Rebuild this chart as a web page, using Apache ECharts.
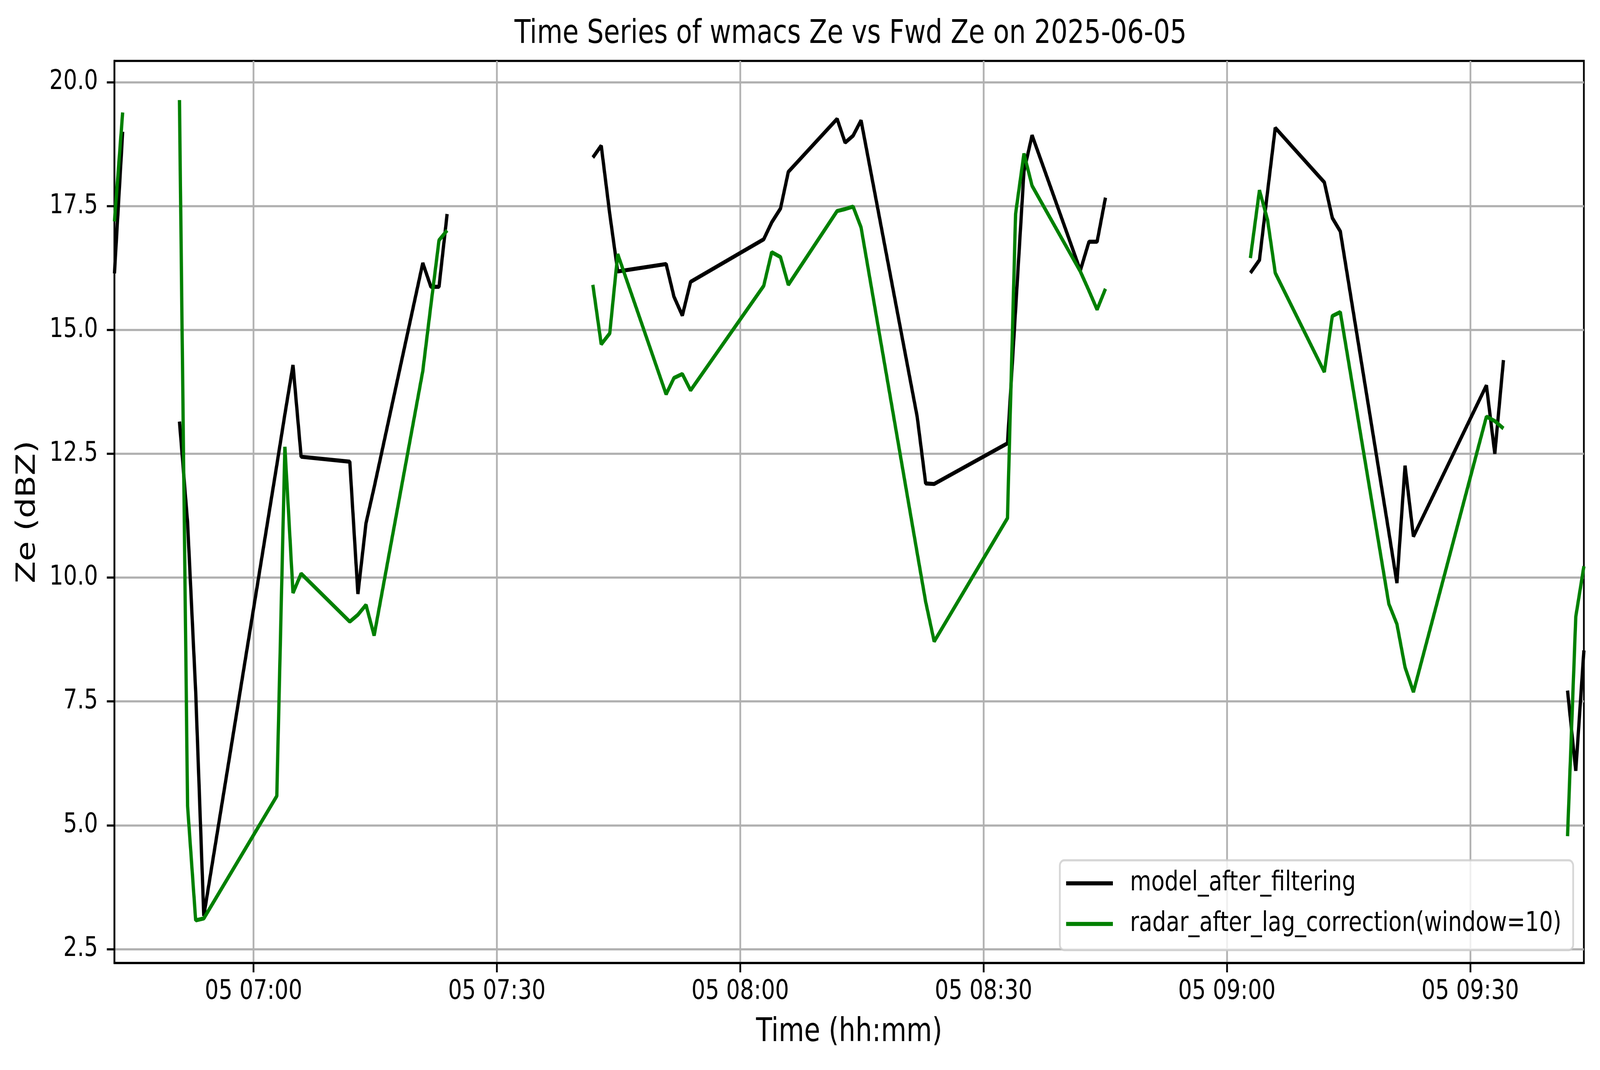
<!DOCTYPE html>
<html>
<head>
<meta charset="utf-8">
<title>wmacs Ze vs Fwd Ze</title>
<script src="https://cdn.jsdelivr.net/npm/echarts@6.0.0/dist/echarts.min.js"></script>
<style>
    html, body { margin: 0; padding: 0; background: #ffffff; overflow: hidden; }
    #chart { width: 5062px; height: 2740px; transform-origin: 0 0; }
</style>
</head>
<body>
<div id="chart"></div>
<script>
// sample times on 2025-06-05, a null row breaks the line (NaN in the source)
var times = [
    '06:42:51', '06:43:52', '06:47:00',
    '06:50:52', '06:51:52', '06:52:52', '06:53:52', '07:02:52', '07:03:52', '07:04:52', '07:05:52',
    '07:11:52', '07:12:52', '07:13:52', '07:14:52', '07:20:52', '07:21:52', '07:22:52', '07:23:52', '07:32:00',
    '07:41:50', '07:42:52', '07:43:55', '07:44:54', '07:50:52', '07:51:50', '07:52:52', '07:53:53',
    '08:02:54', '08:03:53', '08:04:58', '08:05:56', '08:11:57', '08:12:56', '08:13:55', '08:14:54',
    '08:21:49', '08:22:52', '08:23:55', '08:32:57', '08:33:57', '08:34:59', '08:35:59',
    '08:41:56', '08:43:00', '08:44:00', '08:45:02', '08:55:00',
    '09:02:54', '09:04:01', '09:05:01', '09:05:58', '09:12:01', '09:13:00', '09:13:59',
    '09:19:58', '09:20:58', '09:21:58', '09:23:00', '09:32:00', '09:33:02', '09:34:06', '09:38:00',
    '09:42:00', '09:43:01', '09:44:01'
];

var modelZe = [
    16.14, 19.00, null,
    13.15, 11.12, 7.70, 3.17, 12.27, 13.30, 14.29, 12.44,
    12.34, 9.67, 11.10, 11.82, 16.35, 15.87, 15.87, 17.34, null,
    18.48, 18.72, 17.34, 16.18, 16.33, 15.67, 15.29, 15.97,
    16.83, 17.17, 17.45, 18.19, 19.26, 18.78, 18.92, 19.23,
    13.25, 11.90, 11.89, 12.71, 15.40, 18.20, 18.93,
    16.20, 16.78, 16.78, 17.67, null,
    16.15, 16.41, 17.79, 19.08, 17.98, 17.26, 16.99,
    10.92, 9.89, 12.26, 10.83, 13.88, 12.50, 14.39, null,
    7.72, 6.10, 8.53
];

var radarZe = [
    17.19, 19.39, null,
    19.64, 5.39, 3.08, 3.12, 5.59, 12.64, 9.69, 10.08,
    9.11, 9.25, 9.45, 8.83, 14.17, 15.50, 16.81, 17.01, null,
    15.91, 14.71, 14.93, 16.53, 13.70, 14.03, 14.11, 13.78,
    15.89, 16.57, 16.47, 15.91, 17.40, 17.44, 17.49, 17.07,
    10.50, 9.51, 8.71, 11.20, 17.34, 18.56, 17.91,
    16.18, 15.79, 15.41, 15.83, null,
    16.45, 17.82, 17.22, 16.15, 14.15, 15.28, 15.36,
    9.47, 9.06, 8.19, 7.69, 13.25, 13.16, 13.01, null,
    4.78, 9.21, 10.23
];

var seriesNames = ['model_after_filtering', 'radar_after_lag_correction(window=10)'];
var seriesColors = ['#000000', '#008000'];
var xTicks = ['07:00:00', '07:30:00', '08:00:00', '08:30:00', '09:00:00', '09:30:00'];
var yTicks = [2.5, 5.0, 7.5, 10.0, 12.5, 15.0, 17.5, 20.0];
var xRange = ['06:42:51', '09:44:01'];
var yRange = [2.22, 20.43];

var FONT = 'DejaVu Sans';

function toStamp(hms) {
    var p = hms.split(':');
    return new Date(2025, 5, 5, +p[0], +p[1], +p[2]).getTime();
}

function pad2(n) {
    return (n < 10 ? '0' : '') + n;
}

function buildData(values) {
    var out = [];
    for (var i = 0; i < times.length; i++) {
        out.push([toStamp(times[i]), values[i]]);
    }
    return out;
}

var xTickStamps = xTicks.map(toStamp);

// the chart is laid out at 5062 x 2740, then fitted to whatever the window is
var box = document.getElementById('chart');
box.style.transform = 'scale(' + (window.innerWidth / 5062) + ',' + (window.innerHeight / 2740) + ')';

var chart = echarts.init(box, null, { renderer: 'canvas', width: 5062, height: 2740 });

var option = {
    backgroundColor: '#ffffff',
    animation: false,
    title: {
        text: 'Time Series of wmacs Ze vs Fwd Ze on 2025-06-05',
        left: 2686,
        top: 42,
        textAlign: 'center',
        textStyle: { fontFamily: FONT, fontSize: 83, fontWeight: 'normal', color: '#000' }
    },
    grid: {
        left: 362, right: 51, top: 156, bottom: 274,
        show: true,
        borderColor: '#000',
        borderWidth: 5.5,
        backgroundColor: '#ffffff'
    },
    legend: {
        orient: 'vertical',
        right: 85,
        bottom: 307,
        padding: [22, 37, 30, 20],
        icon: 'rect',
        itemWidth: 148,
        itemHeight: 10.4,
        itemGap: 30,
        backgroundColor: 'rgba(255,255,255,0.8)',
        borderColor: 'rgba(204,204,204,0.8)',
        borderWidth: 5.5,
        borderRadius: 14,
        textStyle: { fontFamily: FONT, fontSize: 69, lineHeight: 74, color: '#000', padding: [0, 0, 0, 49] },
        data: seriesNames
    },
    // time kept as a value axis in ms so the ticks can be placed by hand
    xAxis: {
        type: 'value',
        min: toStamp(xRange[0]),
        max: toStamp(xRange[1]),
        name: 'Time (hh:mm)',
        nameLocation: 'middle',
        nameGap: 137,
        nameTextStyle: { fontFamily: FONT, fontSize: 83, color: '#000' },
        axisLine: { show: true, lineStyle: { color: '#000', width: 5.5 } },
        axisTick: {
            show: true, length: 24, lineStyle: { color: '#000', width: 5.5 },
            customValues: xTickStamps
        },
        axisLabel: {
            fontFamily: FONT, fontSize: 69, color: '#000', margin: 40,
            customValues: xTickStamps,
            formatter: function (v) {
                var d = new Date(v);
                return pad2(d.getDate()) + ' ' + pad2(d.getHours()) + ':' + pad2(d.getMinutes());
            }
        },
        splitLine: { show: true, lineStyle: { color: '#b0b0b0', width: 5.5 } }
    },
    yAxis: {
        type: 'value',
        min: yRange[0],
        max: yRange[1],
        name: 'Ze (dBZ)',
        nameLocation: 'middle',
        nameGap: 232,
        nameTextStyle: { fontFamily: FONT, fontSize: 83, color: '#000' },
        axisLine: { show: true, lineStyle: { color: '#000', width: 5.5 } },
        axisTick: { show: true, length: 24, lineStyle: { color: '#000', width: 5.5 }, customValues: yTicks },
        axisLabel: {
            fontFamily: FONT, fontSize: 69, color: '#000', margin: 52,
            customValues: yTicks,
            formatter: function (v) { return v.toFixed(1); }
        },
        splitLine: { show: true, lineStyle: { color: '#b0b0b0', width: 5.5 } }
    },
    series: [
        {
            name: seriesNames[0],
            type: 'line',
            data: buildData(modelZe),
            showSymbol: false,
            symbol: 'none',
            connectNulls: false,
            color: seriesColors[0],
            lineStyle: { color: seriesColors[0], width: 10.4 },
            z: 3
        },
        {
            name: seriesNames[1],
            type: 'line',
            data: buildData(radarZe),
            showSymbol: false,
            symbol: 'none',
            connectNulls: false,
            color: seriesColors[1],
            lineStyle: { color: seriesColors[1], width: 10.4 },
            z: 4
        }
    ]
};

chart.setOption(option);
</script>
</body>
</html>
